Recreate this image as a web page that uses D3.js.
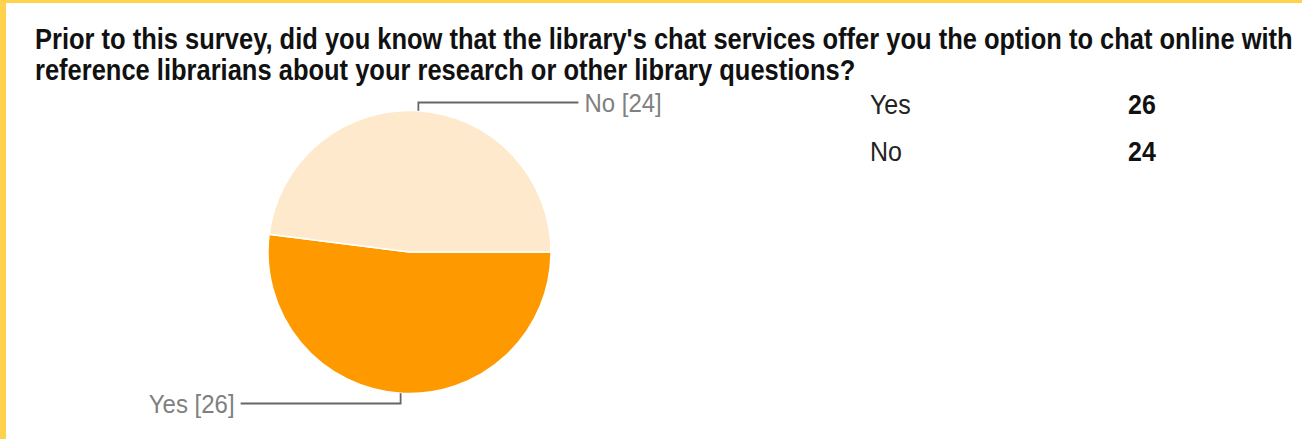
<!DOCTYPE html>
<html>
<head>
<meta charset="utf-8">
<script src="https://cdn.jsdelivr.net/npm/d3@7"></script>
<style>
  html, body { margin: 0; padding: 0; background: #fff; }
  svg { display: block; font-family: "Liberation Sans", Arial, sans-serif; }
</style>
</head>
<body>
<script>
const width = 1302;
const height = 439;

// survey answers
const categories = ["Yes", "No"];
const counts = [26, 24];
const sliceColors = ["#ff9900", "#ffe9cc"];
const titleLines = [
  "Prior to this survey, did you know that the library's chat services offer you the option to chat online with",
  "reference librarians about your research or other library questions?"
];

const cx = 409.5, cy = 252, radius = 141.5;

let svg = d3.select("body")
  .append("svg")
  .attr("width", width)
  .attr("height", height);

svg.append("rect")
  .attr("width", width)
  .attr("height", height)
  .attr("fill", "#fff");

// yellow frame (top + left)
svg.append("rect").attr("x", 0).attr("y", 0).attr("width", width).attr("height", 3).attr("fill", "#ffd24d");
svg.append("rect").attr("x", 0).attr("y", 0).attr("width", 6).attr("height", height).attr("fill", "#ffd24d");

// title, stretched a bit vertically like the screenshot
let title = svg.append("g");
let t1 = title.append("text")
  .attr("font-weight", "bold")
  .attr("font-size", 20)
  .attr("fill", "#111")
  .text(titleLines[0]);
let w = t1.node().getComputedTextLength();
let titleSize = 20 * 1258 / w;
t1.remove();

titleLines.forEach((line, i) => {
  title.append("text")
    .attr("transform", `translate(35,${49 + i * 31}) scale(1,1.15)`)
    .attr("font-weight", "bold")
    .attr("font-size", titleSize)
    .attr("fill", "#111")
    .text(line);
});

// pie
let pie = d3.pie()
  .sort(null)
  .value(d => d)
  .startAngle(Math.PI / 2)
  .endAngle(Math.PI / 2 + 2 * Math.PI);

let arcs = pie(counts);
let arc = d3.arc().innerRadius(0).outerRadius(radius);

let g = svg.append("g")
  .attr("transform", `translate(${cx},${cy})`);

g.selectAll("path.slice")
  .data(arcs)
  .enter()
  .append("path")
  .attr("class", "slice")
  .attr("d", arc)
  .attr("fill", (d, i) => sliceColors[i])
  .attr("stroke", "#fff")
  .attr("stroke-width", 1.5);

// leader lines + labels
arcs.forEach((d, i) => {
  let mid = (d.startAngle + d.endAngle) / 2;
  let px = radius * Math.sin(mid);
  let py = -radius * Math.cos(mid);
  let up = py < 0;
  let ly = up ? -(radius + 8) : radius + 10;
  let dir = Math.sin(mid) >= 0 ? 1 : -1;
  let ex = px + dir * 160;
  g.append("path")
    .attr("d", `M${px},${py}V${ly}H${ex}`)
    .attr("fill", "none")
    .attr("stroke", "#666")
    .attr("stroke-width", 1.8);
  g.append("text")
    .attr("transform", `translate(${ex + dir * 6},${ly}) scale(1,1.1)`)
    .attr("dy", "0.35em")
    .attr("text-anchor", dir > 0 ? "start" : "end")
    .attr("font-size", 24)
    .attr("fill", "#808080")
    .text(`${categories[i]} [${counts[i]}]`);
});

// legend table
let legend = svg.append("g");
categories.forEach((c, i) => {
  let y = 114 + i * 47;
  legend.append("text")
    .attr("transform", `translate(870,${y}) scale(1,1.12)`)
    .attr("font-size", 25)
    .attr("fill", "#222")
    .text(c);
  legend.append("text")
    .attr("transform", `translate(1128,${y}) scale(1,1.12)`)
    .attr("font-size", 25)
    .attr("font-weight", "bold")
    .attr("fill", "#111")
    .text(counts[i]);
});
</script>
</body>
</html>
